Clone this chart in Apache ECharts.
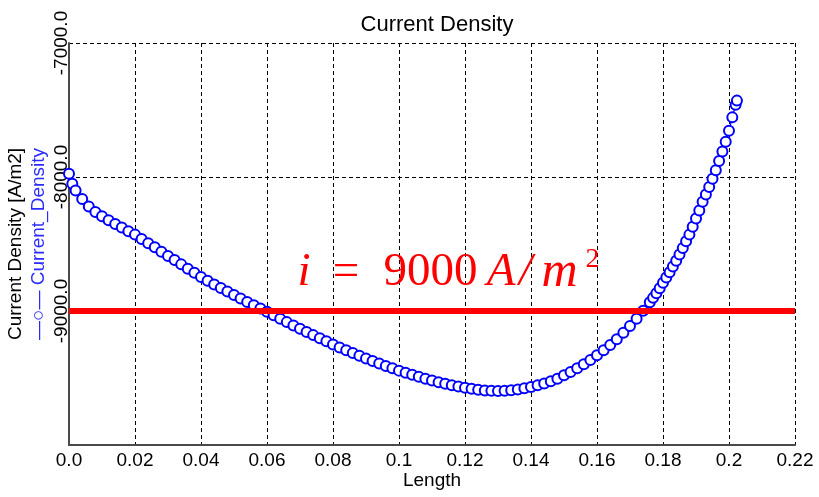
<!DOCTYPE html>
<html>
<head>
<meta charset="utf-8">
<script src="https://cdn.jsdelivr.net/npm/echarts@6/dist/echarts.min.js"></script>
<style>
  html, body { margin: 0; padding: 0; background: #fff; }
  #chart { width: 819px; height: 497px; }
</style>
</head>
<body>
<div id="chart"></div>
<script>
// Length along the electrode
const lengthVals = [
  0.000, 0.001, 0.002, 0.004, 0.006, 0.008, 0.010, 0.012, 0.014, 0.016, 0.018,
  0.020, 0.022, 0.024, 0.026, 0.028, 0.030, 0.032, 0.034, 0.036, 0.038,
  0.040, 0.042, 0.044, 0.046, 0.048, 0.050, 0.052, 0.054, 0.056, 0.058,
  0.060, 0.062, 0.064, 0.066, 0.068, 0.070, 0.072, 0.074, 0.076, 0.078,
  0.080, 0.082, 0.084, 0.086, 0.088, 0.090, 0.092, 0.094, 0.096, 0.098,
  0.100, 0.102, 0.104, 0.106, 0.108, 0.110, 0.112, 0.114, 0.116, 0.118,
  0.120, 0.122, 0.124, 0.126, 0.128, 0.130, 0.132, 0.134, 0.136, 0.138,
  0.140, 0.142, 0.144, 0.146, 0.148, 0.150, 0.152, 0.154, 0.156, 0.158,
  0.160, 0.162, 0.164, 0.166, 0.168, 0.170, 0.172, 0.174, 0.176, 0.177,
  0.178, 0.179, 0.180, 0.181, 0.182, 0.183, 0.184, 0.185, 0.186, 0.187,
  0.188, 0.189, 0.190, 0.191, 0.192, 0.193, 0.194, 0.195, 0.196, 0.197,
  0.198, 0.199, 0.200, 0.201, 0.202, 0.2024
];
// Current_Density [A/m2]
const densityVals = [
  -7975, -8050, -8100, -8165, -8220, -8262, -8293, -8322, -8350, -8377, -8404,
  -8430, -8462, -8494, -8525, -8557, -8589, -8620, -8652, -8684, -8715,
  -8747, -8775, -8802, -8829, -8855, -8881, -8907, -8932, -8957, -8982,
  -9006, -9032, -9058, -9083, -9108, -9132, -9156, -9180, -9203, -9226,
  -9250, -9272, -9293, -9314, -9334, -9354, -9373, -9392, -9410, -9428,
  -9445, -9461, -9476, -9491, -9505, -9518, -9531, -9543, -9554, -9564,
  -9573, -9581, -9588, -9593, -9596, -9597, -9595, -9591, -9585, -9577,
  -9567, -9555, -9541, -9525, -9505, -9480, -9455, -9428, -9398, -9365,
  -9330, -9293, -9253, -9210, -9163, -9112, -9057, -8998, -8935, -8902,
  -8868, -8830, -8790, -8750, -8710, -8668, -8625, -8578, -8530, -8480,
  -8430, -8372, -8310, -8250, -8185, -8130, -8075, -8013, -7950, -7880,
  -7810, -7737, -7655, -7555, -7460, -7430
];
const targetDensity = -9000;
const xTickLabels = ["0.0", "0.02", "0.04", "0.06", "0.08", "0.1", "0.12", "0.14", "0.16", "0.18", "0.2", "0.22"];
const yTickLabels = ["-10000.0", "-9000.0", "-8000.0", "-7000.0"];

const font = "Liberation Sans, Arial, sans-serif";
const mathFont = "Liberation Serif, Times New Roman, serif";

let myChart = echarts.init(document.getElementById("chart"));
let points = lengthVals.map((x, i) => [x, densityVals[i]]);

let option = {
  animation: false,
  backgroundColor: "#fff",
  title: {
    text: "Current Density",
    left: 432,
    textAlign: "center",
    top: 9,
    textStyle: { color: "#000", fontSize: 22, fontWeight: "normal", fontFamily: font },
  },
  grid: { left: 69, right: 24, top: 43, bottom: 52, outerBoundsMode: "none" },
  xAxis: {
    type: "value",
    min: 0,
    max: 0.22,
    interval: 0.02,
    name: "Length",
    nameLocation: "middle",
    nameGap: 26,
    nameMoveOverlap: false,
    nameTextStyle: { color: "#000", fontSize: 19, fontFamily: font },
    axisLine: { show: true, onZero: false, lineStyle: { color: "#4a4a4a", width: 2 } },
    axisTick: { show: false },
    axisLabel: {
      color: "#000",
      fontSize: 19,
      fontFamily: font,
      margin: 6,
      formatter: (v) => xTickLabels[Math.round(v / 0.02)],
    },
    splitLine: { show: true, lineStyle: { color: "#000", type: [4, 3], width: 1 } },
  },
  yAxis: {
    type: "value",
    min: -10000,
    max: -7000,
    interval: 1000,
    name: "{k|Current Density [A/m2]}\n{b|—○— Current_Density}",
    nameLocation: "middle",
    nameRotate: 90,
    nameGap: 19,
    nameMoveOverlap: false,
    nameTextStyle: {
      fontFamily: font,
      rich: {
        k: { color: "#000", fontSize: 19, fontFamily: font, lineHeight: 23 },
        b: { color: "#2b2bff", fontSize: 19, fontFamily: font, lineHeight: 23 },
      },
    },
    axisLine: { show: true, onZero: false, lineStyle: { color: "#4a4a4a", width: 2 } },
    axisTick: { show: false },
    axisLabel: {
      color: "#000",
      fontSize: 19,
      fontFamily: font,
      rotate: 90,
      margin: -2,
      showMinLabel: false,
      formatter: (v) => yTickLabels[Math.round((v + 10000) / 1000)],
    },
    splitLine: { show: true, lineStyle: { color: "#000", type: [4, 3], width: 1 } },
  },
  series: [
    {
      name: "Current_Density",
      type: "line",
      data: points,
      symbol: "emptyCircle",
      symbolSize: 10,
      showAllSymbol: true,
      itemStyle: { color: "#0000ff", borderWidth: 1.4 },
      lineStyle: { color: "#0000ff", width: 1.2 },
      markLine: {
        silent: true,
        symbol: "none",
        z: 10,
        lineStyle: { color: "#ff0000", width: 6, type: "solid" },
        label: {
          position: "insideMiddleTop",
          distance: 11,
          offset: [14, 0],
          formatter: "{i|i}{e|=}{n|9000}{a|A}{sl|/}{m|m}{s|2}",
          rich: {
            i: { color: "#ff0000", fontFamily: mathFont, fontStyle: "italic", fontSize: 47, width: 29, lineHeight: 54 },
            e: { color: "#ff0000", fontFamily: mathFont, fontSize: 47, width: 55, lineHeight: 54 },
            n: { color: "#ff0000", fontFamily: mathFont, fontSize: 47, width: 114, lineHeight: 54 },
            a: { color: "#ff0000", fontFamily: mathFont, fontStyle: "italic", fontSize: 47, width: 27, lineHeight: 54 },
            sl: { color: "#ff0000", fontFamily: mathFont, fontStyle: "italic", fontSize: 47, width: 22, lineHeight: 54 },
            m: { color: "#ff0000", fontFamily: mathFont, fontStyle: "italic", fontSize: 50, width: 46, lineHeight: 54 },
            s: { color: "#ff0000", fontFamily: mathFont, fontSize: 28, width: 20, lineHeight: 54, verticalAlign: "top" },
          },
        },
        data: [{ yAxis: targetDensity }],
      },
    },
  ],
};
myChart.setOption(option);
</script>
</body>
</html>
